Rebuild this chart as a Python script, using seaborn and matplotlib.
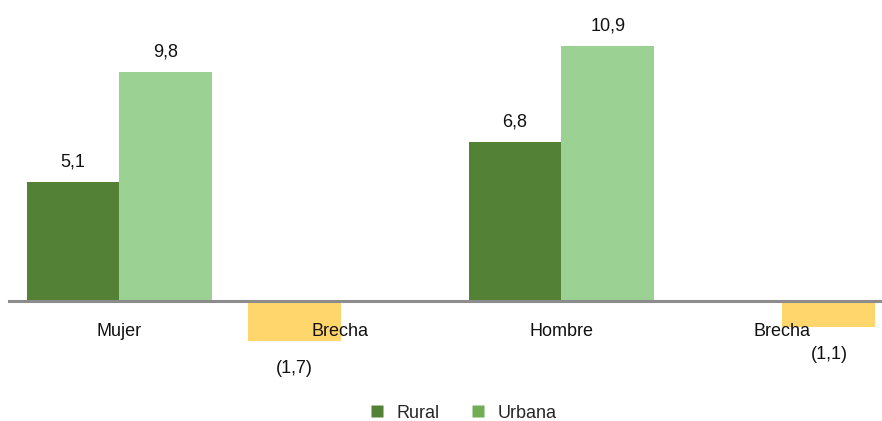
import matplotlib
matplotlib.use("Agg")
import matplotlib.pyplot as plt
from matplotlib.lines import Line2D
import seaborn as sns
import pandas as pd
import numpy as np

# Chart data
categories = ["Mujer", "Brecha (M)", "Hombre", "Brecha (H)"]
tick_labels = ["Mujer", "Brecha", "Hombre", "Brecha"]
rural = [5.1, -1.7, 6.8, np.nan]
urbana = [9.8, np.nan, 10.9, -1.1]
series = ["Rural", "Urbana"]

colors = {"Rural": "#538135", "Urbana": "#9CD194"}
gap_color = "#FFD66B"
legend_colors = {"Rural": "#538135", "Urbana": "#70AD55"}

df = pd.DataFrame({
    "categoria": categories * 2,
    "serie": ["Rural"] * 4 + ["Urbana"] * 4,
    "valor": rural + urbana,
})

sns.set_theme(style="white")
plt.rcParams["font.family"] = ["Liberation Sans Narrow", "Liberation Sans", "DejaVu Sans"]

W, H = 882, 421
fig = plt.figure(figsize=(W / 100, H / 100), dpi=100)
ymin, ymax = -2.5, 12.0
ppu = 23.35
zero_px = 301
top_px = zero_px - ymax * ppu
bot_px = zero_px - ymin * ppu
left_px, right_px = 9, 893
ax = fig.add_axes([left_px / W, (H - bot_px) / H, (right_px - left_px) / W, (bot_px - top_px) / H])

sns.barplot(data=df, x="categoria", y="valor", hue="serie", order=categories,
            hue_order=series, palette=colors, width=0.84, saturation=1,
            errorbar=None, legend=False, ax=ax)

ax.set_xlim(-0.5, 3.5)
ax.set_ylim(ymin, ymax)

for bar in ax.patches:
    h = bar.get_height()
    if np.isnan(h) or h == 0:
        continue
    cx = bar.get_x() + bar.get_width() / 2
    if h < 0:
        bar.set_facecolor(gap_color)
        txt = "({:.1f})".format(-h).replace(".", ",")
        ax.annotate(txt, (cx, h), xytext=(0, -28), textcoords="offset pixels",
                    ha="center", va="center", fontsize=13, color="#111111")
    else:
        txt = "{:.1f}".format(h).replace(".", ",")
        ax.annotate(txt, (cx, h), xytext=(0, 20), textcoords="offset pixels",
                    ha="center", va="center", fontsize=13, color="#111111")
    bar.set_edgecolor("none")

# Category axis sits on the zero line, drawn above the bars
ax.set_axisbelow(False)
for s in ["top", "left", "right"]:
    ax.spines[s].set_visible(False)
ax.spines["bottom"].set_position(("data", 0))
ax.spines["bottom"].set_color("#8C8C8C")
ax.spines["bottom"].set_linewidth(2.2)
ax.spines["bottom"].set_zorder(5)
ax.xaxis.set_zorder(6)

ax.set_xticks(range(len(categories)))
ax.set_xticklabels(tick_labels, fontsize=13, color="#111111")
ax.tick_params(axis="x", length=0, pad=16)
ax.set_yticks([])
ax.set_xlabel("")
ax.set_ylabel("")

handles = [Line2D([0], [0], marker="s", linestyle="none", markersize=8,
                  markerfacecolor=legend_colors[s], markeredgecolor="none") for s in series]
fig.legend(handles, series, loc="center", bbox_to_anchor=(463 / W, 1 - 413 / H),
           ncol=2, frameon=False, fontsize=13, columnspacing=1.7,
           handlelength=0.8, handletextpad=0.7)

fig.savefig("out.png", dpi=100)
